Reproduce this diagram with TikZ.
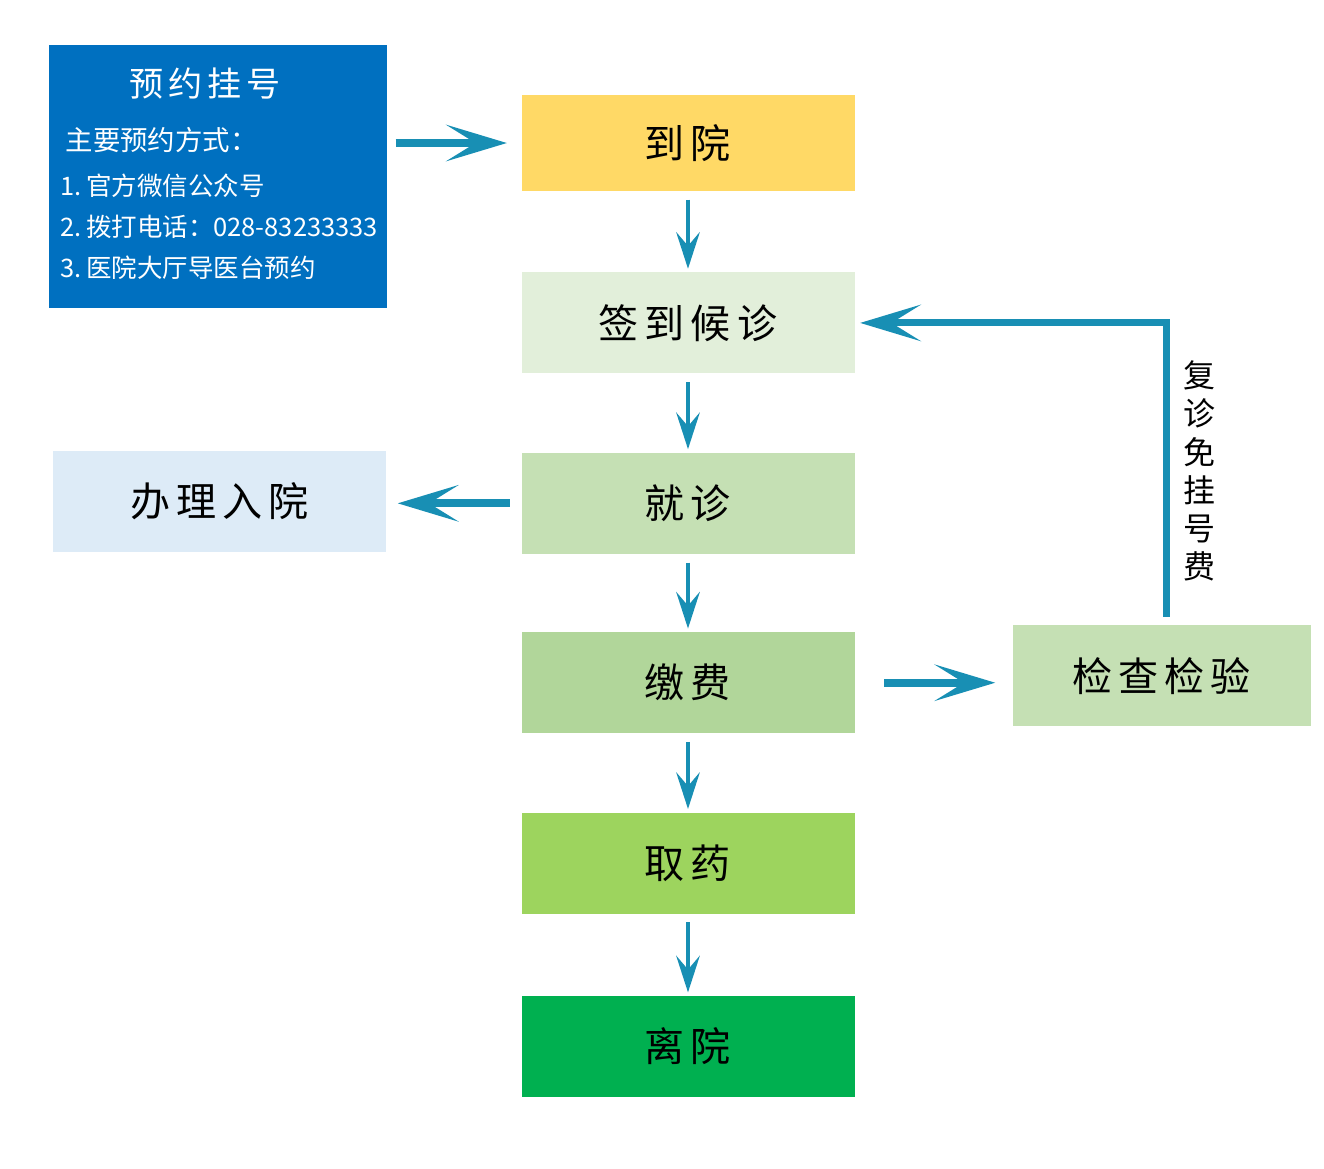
\documentclass[tikz,border=0pt]{standalone}
\usepackage{fontspec}
\setmainfont{Noto Sans CJK SC}
\newfontfamily\boxfont[LetterSpace=15]{Noto Sans CJK SC}
\usetikzlibrary{positioning, calc, arrows.meta}

\definecolor{bookcol}{HTML}{0070C0}
\definecolor{arrivecol}{HTML}{FFD966}
\definecolor{signcol}{HTML}{E2EFDA}
\definecolor{visitcol}{HTML}{C5E0B4}
\definecolor{admitcol}{HTML}{DDEBF7}
\definecolor{paycol}{HTML}{B1D69A}
\definecolor{drugcol}{HTML}{9DD45E}
\definecolor{leavecol}{HTML}{00B050}
\definecolor{flowcol}{RGB}{24,143,180}

\begin{document}
\begin{tikzpicture}[
	stage/.style={fill=#1, minimum width=3.33cm, minimum height=1.01cm, inner sep=0,
		font=\boxfont\fontsize{11.4}{13}\selectfont},
	hflow/.style={-{Stealth[length=17.4pt, width=10.5pt, inset=8.5pt, line width=0pt]}, line width=2.28pt, draw=flowcol},
	vflow/.style={-{Stealth[length=10.5pt, width=6.8pt, inset=4pt, line width=0pt]}, line width=1.42pt, draw=flowcol},
	wayline/.style={anchor=west, inner sep=0, text=white, font=\fontsize{7.25}{8.5}\selectfont}]

	\useasboundingbox (0,0) rectangle (13.24,-11.68);

	% booking box
	\node[fill=bookcol, minimum width=3.38cm, minimum height=2.63cm, inner sep=0] (book) at (2.18,-1.765) {};
	\node[text=white, inner sep=0, font=\boxfont\fontsize{9.7}{11}\selectfont] (booktitle) at (2.05,-0.84) {预约挂号};
	\node[wayline, font=\fontsize{7.8}{9}\selectfont] (wayhead) at (0.65,-1.40) {主要预约方式：};
	\node[wayline] (way1) at (0.60,-1.86) {1.\,官方微信公众号};
	\node[wayline] (way2) at (0.60,-2.27) {2.\,拨打电话：028-83233333};
	\node[wayline] (way3) at (0.60,-2.68) {3.\,医院大厅导医台预约};

	% main flow
	\node[stage=arrivecol, minimum height=0.96cm] (arrive) at (6.88,-1.43) {到院};
	\node[stage=signcol, below=0.8 of arrive] (sign) {签到候诊};
	\node[stage=visitcol, below=0.78 of sign] (visit) {就诊};
	\node[stage=paycol, below=0.77 of visit] (pay) {缴费};
	\node[stage=drugcol, below=0.78 of pay] (drug) {取药};
	\node[stage=leavecol, below=0.81 of drug] (leave) {离院};

	\node[stage=admitcol, left=1.34 of visit, yshift=0.02cm] (admit) {办理入院};
	\node[stage=visitcol, minimum width=2.98cm, right=1.57 of pay, yshift=0.07cm] (check) {检查检验};

	\draw[hflow, shorten <=0.08cm, shorten >=0.14cm] (book.east |- arrive) -- (arrive.west);

	\foreach \source/\target in {arrive/sign, sign/visit, visit/pay, pay/drug, drug/leave} {
		\draw[vflow, shorten <=0.08cm, shorten >=0.03cm] (\source) -- (\target);
	}

	\draw[hflow, shorten <=0.11cm, shorten >=0.11cm] (visit.west) -- (admit.east |- visit.west);
	\draw[hflow, shorten <=0.29cm, shorten >=0.17cm] (pay.east) -- (check.west |- pay.east);
	\draw[hflow, line width=2pt, shorten <=0.08cm, shorten >=0.05cm] ([xshift=0.05cm]check.north) |- (sign.east);

	% return visit note
	\node[align=center, inner sep=0, font=\fontsize{9.1}{10.9}\selectfont] (free) at (11.99,-4.71) {复\\诊\\免\\挂\\号\\费};

\end{tikzpicture}
\end{document}
